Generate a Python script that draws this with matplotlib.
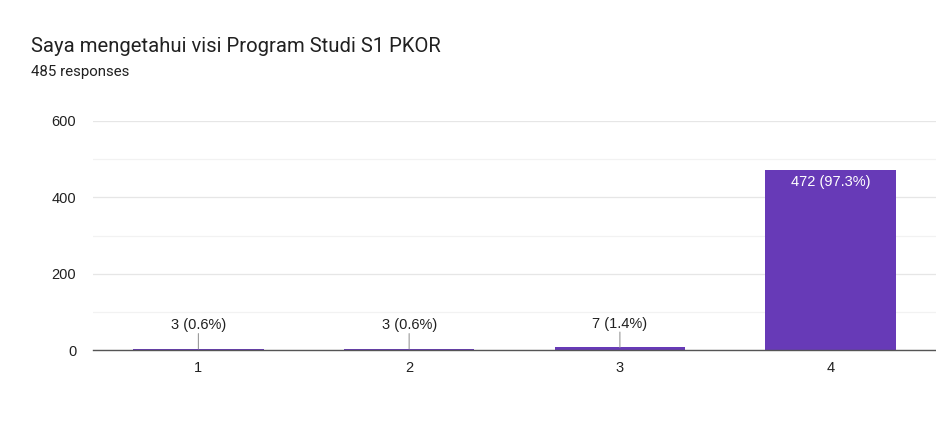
import matplotlib
matplotlib.use("Agg")
import matplotlib.pyplot as plt
from matplotlib.ticker import MultipleLocator

title = "Saya mengetahui visi Program Studi S1 PKOR"
subtitle = "485 responses"
categories = ["1", "2", "3", "4"]
counts = [3, 3, 7, 472]
percents = [0.6, 0.6, 1.4, 97.3]

BAR_COLOR = "#673ab7"
TEXT_COLOR = "#212121"
plt.rcParams["font.family"] = ["Liberation Sans", "DejaVu Sans"]

fig = plt.figure(figsize=(9.36, 4.46), dpi=100)
ax = fig.add_axes([0.0994, 0.2152, 0.9006, 0.5135])

x = list(range(len(categories)))
ax.bar(x, counts, width=0.62, color=BAR_COLOR, zorder=3)

ax.set_xlim(-0.5, len(categories) - 0.5)
ax.set_ylim(0, 600)
ax.yaxis.set_major_locator(MultipleLocator(200))
ax.yaxis.set_minor_locator(MultipleLocator(100))
ax.grid(True, which="major", axis="y", color="#e6e6e6", lw=0.9, zorder=0)
ax.grid(True, which="minor", axis="y", color="#f2f2f2", lw=0.9, zorder=0)
ax.set_xticks(x)
ax.set_xticklabels(categories)
ax.tick_params(axis="y", which="both", length=0, labelsize=10.5,
               labelcolor=TEXT_COLOR, pad=12)
ax.tick_params(axis="x", length=0, labelsize=10.5, labelcolor=TEXT_COLOR,
               pad=8)
for side in ["top", "right", "left"]:
    ax.spines[side].set_visible(False)
ax.spines["bottom"].set_color("#555555")
ax.spines["bottom"].set_linewidth(1.0)
ax.spines["bottom"].set_zorder(4)

for xi, c, p in zip(x, counts, percents):
    label = f"{c} ({p}%)"
    if c > 100:
        ax.annotate(label, (xi, c), xytext=(0, -3.5), textcoords="offset points",
                    ha="center", va="top", color="white", fontsize=10.5, zorder=5)
    else:
        ax.annotate("", (xi, c), xytext=(0, 11), textcoords="offset points",
                    arrowprops=dict(arrowstyle="-", color="#999999", lw=0.8,
                                    shrinkA=0, shrinkB=0), zorder=5)
        ax.annotate(label, (xi, c), xytext=(0, 12), textcoords="offset points",
                    ha="center", va="bottom", color=TEXT_COLOR, fontsize=10.5,
                    zorder=5)

fig.text(31 / 936, 1 - 46 / 446, title, fontsize=14.6, family="Roboto",
         color=TEXT_COLOR, va="center", ha="left")
fig.text(31 / 936, 1 - 72 / 446, subtitle, fontsize=10.8, family="Roboto",
         color=TEXT_COLOR, va="center", ha="left")

fig.savefig("out.png", dpi=100)
